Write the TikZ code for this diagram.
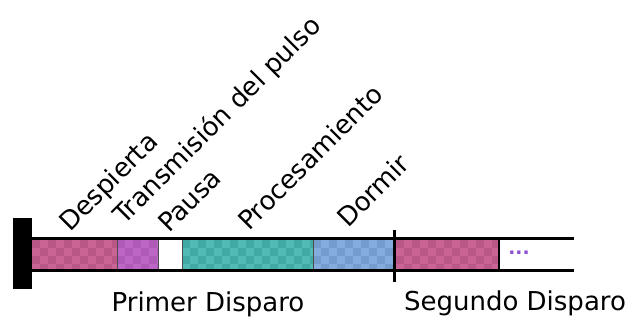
\documentclass[tikz,border=0pt]{standalone}
\usepackage{fontspec}
\setmainfont{DejaVu Sans}

\definecolor{despL}{RGB}{201,100,148}
\definecolor{despD}{RGB}{185,88,134}
\definecolor{tranL}{RGB}{190,102,198}
\definecolor{tranD}{RGB}{174,90,182}
\definecolor{procL}{RGB}{82,186,180}
\definecolor{procD}{RGB}{66,170,164}
\definecolor{dormL}{RGB}{132,172,220}
\definecolor{dormD}{RGB}{116,156,204}
\definecolor{dotcol}{RGB}{140,80,210}

% checkered segment: x1, x2, light, dark
\newcommand{\checkseg}[4]{%
  \fill[#3] (#1,240) rectangle (#2,270);
  \begin{scope}
    \clip (#1,240) rectangle (#2,270);
    \foreach \i in {0,...,17}{
      \foreach \j in {0,...,3}{
        \pgfmathtruncatemacro{\chk}{mod(\i+\j,2)}
        \ifnum\chk=0 \fill[#4] ({#1+8*\i},{240+8*\j}) rectangle ++(8,8); \fi
      }
    }
  \end{scope}}

\tikzset{
  lbl/.style={anchor=base west, inner sep=0pt, rotate=45, font=\fontsize{19.5}{23}\selectfont},
  shot/.style={anchor=base, inner sep=0pt, font=\fontsize{19.5}{23}\selectfont},
  seg/.style={line width=0.5pt, black!70}
}

\begin{document}
\begin{tikzpicture}[x=0.75pt,y=0.75pt,yscale=-1,xscale=1]
\useasboundingbox (0,0) rectangle (632,320);

%Shape: segments of the first shot
\checkseg{32}{117}{despL}{despD}
\checkseg{117}{158}{tranL}{tranD}
\checkseg{182}{313}{procL}{procD}
\checkseg{313}{393}{dormL}{dormD}
%Shape: segment of the second shot
\checkseg{396}{499}{despL}{despD}

% thin separators
\draw[seg] (117,240) -- (117,270);
\draw[seg] (158,240) -- (158,270);
\draw[seg] (182,240) -- (182,270);
\draw[seg] (313,240) -- (313,270);
\draw[line width=1.5pt] (499,240) -- (499,270);

%Shape: bar borders
\draw[line width=2.25pt] (32,239) -- (574,239);
\draw[line width=2.25pt] (32,271) -- (574,271);
%Shape: start block
\fill[black] (13,218) rectangle (32,289);
%Shape: shot boundary
\draw[line width=2.25pt] (394,230) -- (394,282);

% Text Node
\node[text=dotcol, inner sep=0pt, font=\fontsize{14}{16}\selectfont\bfseries] (dots) at (519,253) {...};

% Text Node
\node[lbl] (despierta) at (70,233) {Despierta};
% Text Node
\node[lbl] (transmision) at (124,226) {Transmisión del pulso};
% Text Node
\node[lbl] (pausa) at (169,234) {Pausa};
% Text Node
\node[lbl] (procesamiento) at (249,232) {Procesamiento};
% Text Node
\node[lbl] (dormir) at (348,229) {Dormir};

% Text Node
\node[shot] (primer) at (208,312) {Primer Disparo};
% Text Node
\node[shot] (segundo) at (515,311) {Segundo Disparo};

\end{tikzpicture}
\end{document}
